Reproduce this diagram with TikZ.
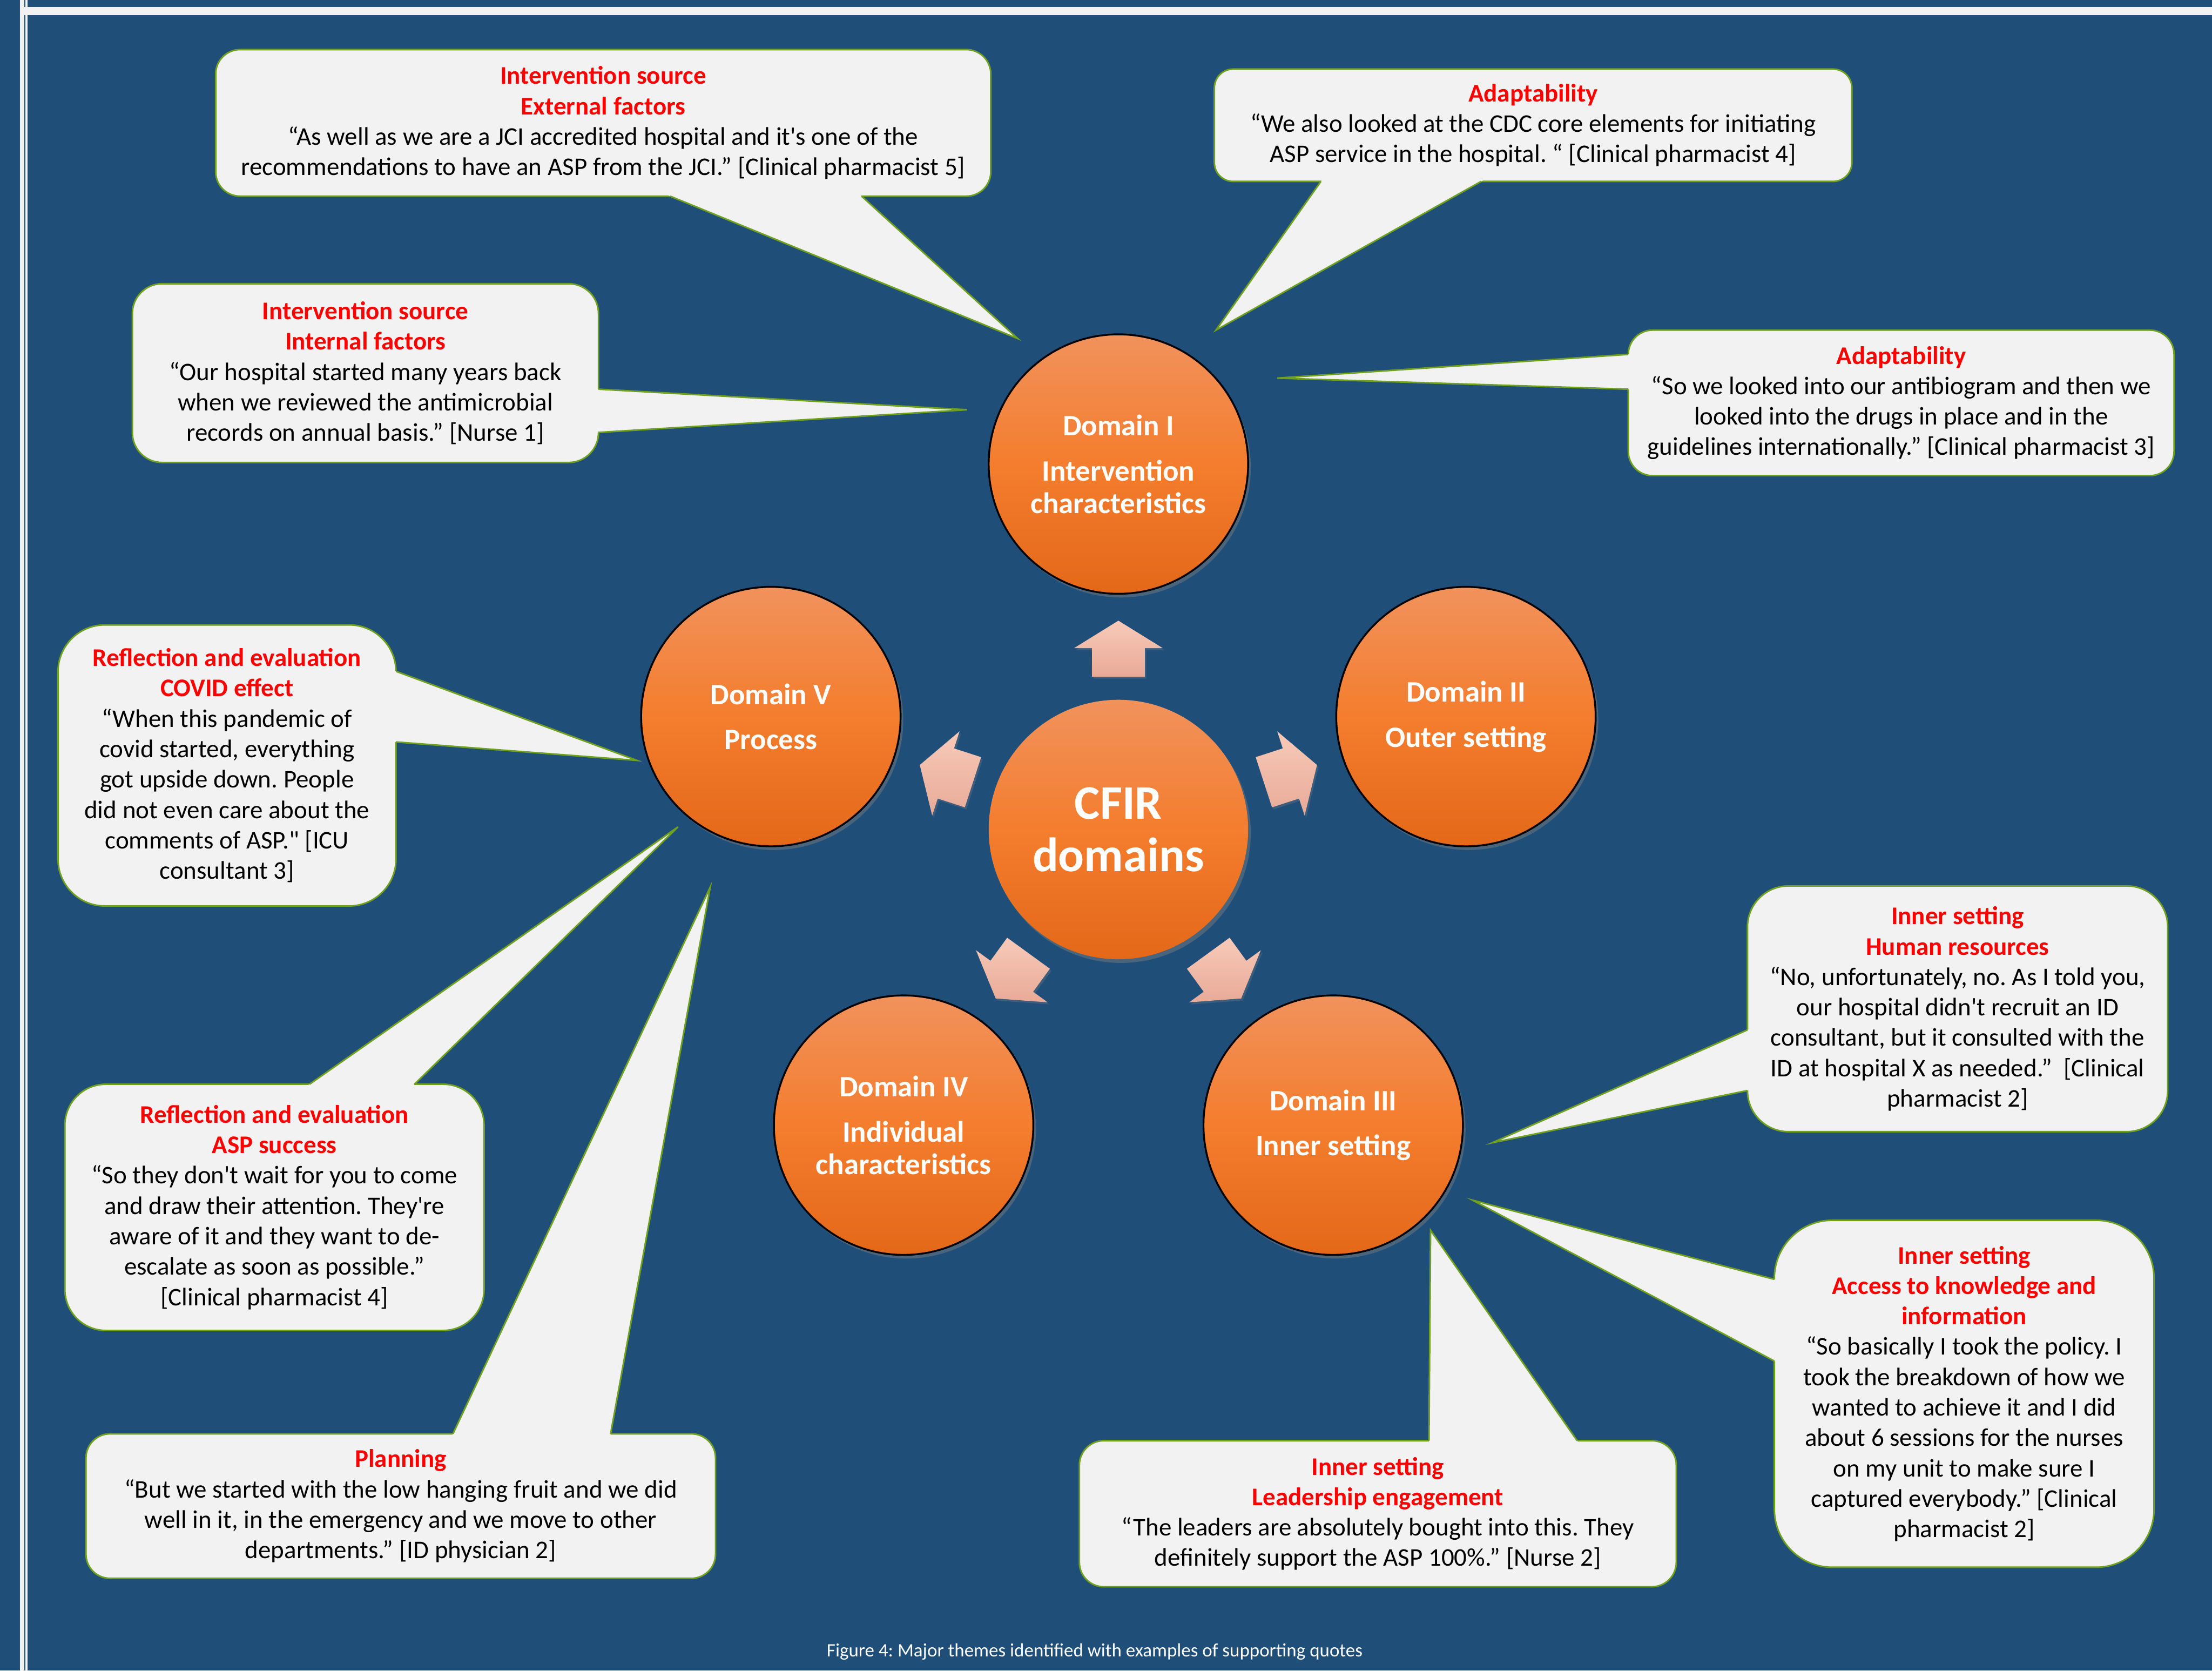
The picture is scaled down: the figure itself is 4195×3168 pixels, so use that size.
\documentclass[tikz,border=0pt]{standalone}
\usepackage{fontspec}
\setmainfont{Carlito}[Ligatures=TeXOff]
\usetikzlibrary{calc,shadows}
\frenchspacing

\definecolor{bgblue}{RGB}{31,78,121}
\definecolor{rimwhite}{RGB}{242,242,242}
\definecolor{boxfill}{RGB}{242,242,242}
\definecolor{boxline}{RGB}{112,160,32}
\definecolor{orangetop}{RGB}{241,146,92}
\definecolor{orangemid}{RGB}{244,125,46}
\definecolor{orangebot}{RGB}{228,104,24}
\definecolor{arrowtop}{RGB}{248,202,184}
\definecolor{arrowbot}{RGB}{232,170,152}
\definecolor{themered}{RGB}{255,0,0}

\newcommand\redhead[1]{\textcolor{themered}{\bfseries #1}}
% tail of a speech bubble: base point, tip, base point
\newcommand\calltail[3]{%
  \fill[boxfill] ($(#2)!1.025!(#1)$) -- (#2) -- ($(#2)!1.025!(#3)$) -- cycle;
  \draw[tailline] (#1) -- (#2) -- (#3);
}

\tikzset{
  quotebox/.style={draw=boxline, line width=0.3mm, fill=boxfill, inner sep=0pt,
    align=center, text=black, font=\fontsize{13.7}{16.4}\selectfont},
  tailline/.style={draw=boxline, line width=0.3mm, line join=miter},
  domainnode/.style={circle, draw=black, line width=0.35mm, minimum size=49.2mm, inner sep=0pt,
    top color=orangetop, bottom color=orangebot, middle color=orangemid,
    text=white, align=center, font=\bfseries\fontsize{16}{17.5}\selectfont,
    drop shadow={shadow xshift=0.5mm, shadow yshift=-0.7mm, opacity=0.45}},
  hubnode/.style={domainnode, draw=none, font=\bfseries\fontsize{26}{28.2}\selectfont},
  blockarrow/.style={top color=arrowtop, bottom color=arrowbot,
    drop shadow={shadow xshift=0.3mm, shadow yshift=-0.4mm, opacity=0.3}},
}

\begin{document}
\begin{tikzpicture}[x=0.1mm, y=-0.1mm]
\useasboundingbox (0,0) rectangle (4195,3168);
% page background and frame lines
\fill[bgblue] (0,0) rectangle (4195,3168);
\fill[rimwhite] (38,0) rectangle (46,3168);
\fill[rimwhite] (48,0) rectangle (52,3168);
\fill[rimwhite] (38,13) rectangle (4195,29);

% quote bubbles
\node[quotebox, minimum width=147mm, minimum height=27.8mm, rounded corners=4.63mm] (q1) at (1144,233)
  {\redhead{Intervention source}\\ \redhead{External factors}\\
   “As well as we are a JCI accredited hospital and it's one of the\\
   recommendations to have an ASP from the JCI.” [Clinical pharmacist 5]};
\node[quotebox, minimum width=120.9mm, minimum height=21.3mm, rounded corners=3.55mm] (q2) at (2907.5,237.5)
  {\redhead{Adaptability}\\
   “We also looked at the CDC core elements for initiating\\
   ASP service in the hospital. “ [Clinical pharmacist 4]};
\node[quotebox, minimum width=88.4mm, minimum height=33.9mm, rounded corners=5.65mm] (q3) at (693,707.5)
  {\redhead{Intervention source}\\ \redhead{Internal factors}\\
   “Our hospital started many years back\\
   when we reviewed the antimicrobial\\
   records on annual basis.” [Nurse 1]};
\node[quotebox, minimum width=103.5mm, minimum height=27.6mm, rounded corners=4.6mm] (q4) at (3605.5,764)
  {\redhead{Adaptability}\\
   “So we looked into our antibiogram and then we\\
   looked into the drugs in place and in the\\
   guidelines internationally.” [Clinical pharmacist 3]};
\node[quotebox, minimum width=64.1mm, minimum height=53.3mm, rounded corners=8.88mm] (q5) at (430.5,1451.5)
  {\redhead{Reflection and evaluation}\\ \redhead{COVID effect}\\
   “When this pandemic of\\ covid started, everything\\ got upside down. People\\
   did not even care about the\\ comments of ASP." [ICU\\ consultant 3]};
\node[quotebox, minimum width=79.5mm, minimum height=46.7mm, rounded corners=7.78mm] (q6) at (520.5,2289.5)
  {\redhead{Reflection and evaluation}\\ \redhead{ASP success}\\
   “So they don't wait for you to come\\ and draw their attention. They're\\
   aware of it and they want to de-\\ escalate as soon as possible.”\\ {}[Clinical pharmacist 4]};
\node[quotebox, minimum width=119.4mm, minimum height=27.4mm, rounded corners=4.57mm] (q7) at (760,2856)
  {\redhead{Planning}\\
   “But we started with the low hanging fruit and we did\\
   well in it, in the emergency and we move to other\\
   departments.” [ID physician 2]};
\node[quotebox, minimum width=113.2mm, minimum height=27.7mm, rounded corners=4.62mm] (q8) at (2613,2870.5)
  {\redhead{Inner setting}\\ \redhead{Leadership engagement}\\
   “The leaders are absolutely bought into this. They\\
   definitely support the ASP 100\%.” [Nurse 2]};
\node[quotebox, minimum width=79.7mm, minimum height=46.6mm, rounded corners=7.77mm] (q9) at (3712.5,1913)
  {\redhead{Inner setting}\\ \redhead{Human resources}\\
   “No, unfortunately, no. As I told you,\\ our hospital didn't recruit an ID\\
   consultant, but it consulted with the\\ ID at hospital X as needed.”~ [Clinical\\ pharmacist 2]};
\node[quotebox, minimum width=72mm, minimum height=65.8mm, rounded corners=10.97mm] (q10) at (3725,2643)
  {\redhead{Inner setting}\\ \redhead{Access to knowledge and}\\ \redhead{information}\\
   “So basically I took the policy. I\\ took the breakdown of how we\\
   wanted to achieve it and I did\\ about 6 sessions for the nurses\\
   on my unit to make sure I\\ captured everybody.” [Clinical\\ pharmacist 2]};

% bubble tails pointing at the domains
\coordinate (t1) at (1930,642);
\coordinate (t2) at (2306,626);
\coordinate (t3) at (1834,777);
\coordinate (t4) at (2422,717);
\coordinate (t5) at (1208,1442);
\coordinate (t6) at (1286,1568);
\coordinate (t7) at (1347,1682);
\coordinate (t8) at (2713,2333);
\coordinate (t9) at (2830,2167);
\coordinate (t10) at (2793,2276);
\calltail{1271,372}{t1}{1634,372}
\calltail{2505,344}{t2}{2809,344}
\calltail{1135,738}{t3}{1135,820}
\calltail{3088,672}{t4}{3088,738}
\calltail{751,1273}{t5}{751,1407}
\calltail{587,2056}{t6}{786,2056}
\calltail{859,2719}{t7}{1158,2719}
\calltail{2710,2732}{t8}{2991,2732}
\calltail{3314,1953}{t9}{3314,2068}
\calltail{3365,2426}{t10}{3365,2581}

% CFIR hub and the five domains
\coordinate (c) at (2121,1573);
\node[hubnode] (cfir) at (c) {CFIR\\domains};
\node[domainnode] (d1) at ($(c)+(-90:693)$) {Domain I\\[6.9pt]Intervention\\characteristics};
\node[domainnode] (d2) at ($(c)+(-18:693)$) {Domain II\\[6.9pt]Outer setting};
\node[domainnode] (d3) at ($(c)+(54:693)$) {Domain III\\[6.9pt]Inner setting};
\node[domainnode] (d4) at ($(c)+(126:693)$) {Domain IV\\[6.9pt]Individual\\characteristics};
\node[domainnode] (d5) at ($(c)+(198:693)$) {Domain V\\[6.9pt]Process};

% block arrows from the hub to each domain
\foreach \a in {-90,-18,54,126,198} {
  \path[blockarrow]
    ($(cfir.center)+(\a:290)+(\a+90:50)$) --
    ($(cfir.center)+(\a:344)+(\a+90:50)$) --
    ($(cfir.center)+(\a:344)+(\a+90:84)$) --
    ($(cfir.center)+(\a:396)$) --
    ($(cfir.center)+(\a:344)+(\a-90:84)$) --
    ($(cfir.center)+(\a:344)+(\a-90:50)$) --
    ($(cfir.center)+(\a:290)+(\a-90:50)$) -- cycle;
}

% caption
\node[text=white, font=\fontsize{10.2}{12}\selectfont] (cap) at (2076,3132)
  {Figure 4: Major themes identified with examples of supporting quotes};
\end{tikzpicture}
\end{document}
